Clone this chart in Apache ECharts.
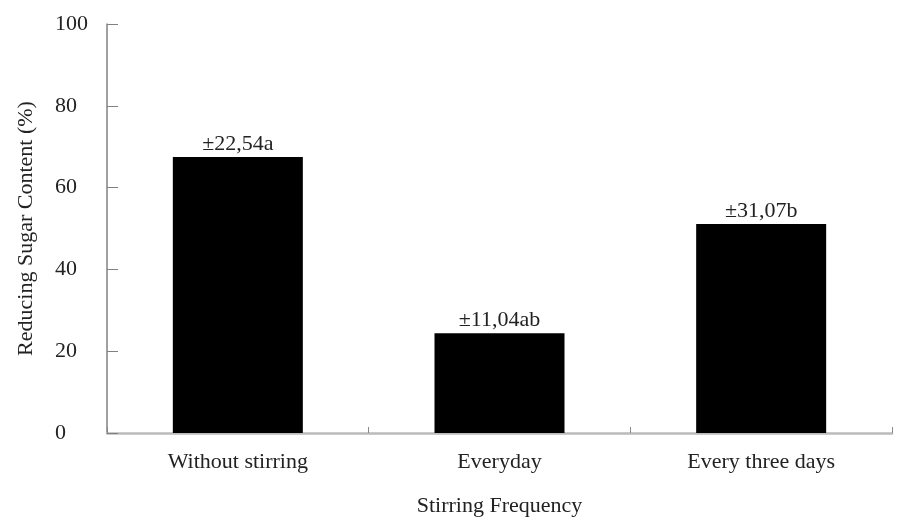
<!DOCTYPE html>
<html>
<head>
<meta charset="utf-8">
<script src="https://cdn.jsdelivr.net/npm/echarts@6/dist/echarts.min.js"></script>
<style>html,body{margin:0;padding:0;background:#fff;}#c{width:912px;height:520px;}</style>
</head>
<body>
<div id="c"></div>
<script>
const categories = ['Without stirring', 'Everyday', 'Every three days'];
const values = [67.5, 24.4, 51.1];
const barLabels = ['±22,54a', '±11,04ab', '±31,07b'];
const yTicks = [0, 20, 40, 60, 80, 100];

const serif = '"Liberation Serif", "DejaVu Serif", serif';
const chart = echarts.init(document.getElementById('c'));
chart.setOption({
  animation: false,
  backgroundColor: '#fff',
  grid: { left: 107, right: 20, top: 24, bottom: 87, containLabel: false, outerBoundsMode: 'none' },
  xAxis: {
    type: 'category',
    data: categories,
    name: 'Stirring Frequency',
    nameLocation: 'middle',
    nameGap: 62,
    nameTextStyle: { fontFamily: serif, fontSize: 22, color: '#222' },
    axisLine: { lineStyle: { color: '#bbbbbb', width: 2.5 } },
    axisTick: { show: true, inside: true, length: 6, lineStyle: { color: '#888' } },
    axisLabel: { fontFamily: serif, fontSize: 22, color: '#222', margin: 18 }
  },
  yAxis: {
    type: 'value',
    min: yTicks[0],
    max: yTicks[yTicks.length - 1],
    interval: 20,
    name: 'Reducing Sugar Content (%)',
    nameLocation: 'middle',
    nameGap: 70,
    nameTextStyle: { fontFamily: serif, fontSize: 22, color: '#222' },
    splitLine: { show: false },
    axisLine: { show: true, lineStyle: { color: '#808080', width: 1.5 } },
    axisTick: { show: true, inside: true, length: 11, lineStyle: { color: '#808080' } },
    axisLabel: { fontFamily: serif, fontSize: 22, color: '#222', align: 'left', margin: 52 }
  },
  series: [{
    type: 'bar',
    data: values,
    barWidth: 130,
    itemStyle: { color: '#000' },
    label: {
      show: true,
      position: 'top',
      distance: 2,
      fontFamily: serif,
      fontSize: 22,
      color: '#222',
      formatter: p => barLabels[p.dataIndex]
    }
  }]
});
</script>
</body>
</html>
